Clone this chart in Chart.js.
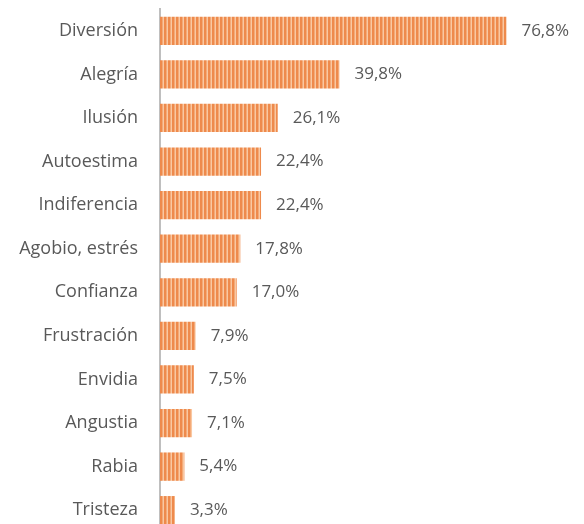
<!DOCTYPE html>
<html>
<head>
<meta charset="utf-8">
<script src="https://cdn.jsdelivr.net/npm/chart.js@4/dist/chart.umd.min.js"></script>
<style>
  html, body { margin: 0; padding: 0; background: #fff; overflow: hidden; }
  #wrap { width: 584px; height: 532px; position: relative; }
</style>
</head>
<body>
<div id="wrap"><canvas id="chart"></canvas></div>
<script>
// Datos del gráfico
const categorias = [
  "Diversión", "Alegría", "Ilusión", "Autoestima", "Indiferencia", "Agobio, estrés",
  "Confianza", "Frustración", "Envidia", "Angustia", "Rabia", "Tristeza"
];
const porcentajes = [76.8, 39.8, 26.1, 22.4, 22.4, 17.8, 17.0, 7.9, 7.5, 7.1, 5.4, 3.3];

const FONT = "'Open Sans', 'Noto Sans', sans-serif";
const TEXTO = "#595959";

// patrón de rayas verticales (naranja / claro)
function rayas() {
  const c = document.createElement("canvas");
  c.width = 4; c.height = 4;
  const g = c.getContext("2d");
  g.fillStyle = "#ee8a4c"; g.fillRect(0, 0, 2, 4);
  g.fillStyle = "#f4aa78"; g.fillRect(2, 0, 1, 4);
  g.fillStyle = "#f9c8a2"; g.fillRect(3, 0, 1, 4);
  return g.createPattern(c, "repeat");
}

// etiquetas de valor al final de cada barra
const etiquetas = {
  id: "etiquetas",
  afterDatasetsDraw(chart) {
    const ctx = chart.ctx;
    const meta = chart.getDatasetMeta(0);
    ctx.save();
    ctx.font = "17px " + FONT;
    ctx.fillStyle = TEXTO;
    ctx.textBaseline = "middle";
    ctx.textAlign = "left";
    meta.data.forEach((bar, i) => {
      const txt = porcentajes[i].toFixed(1).replace(".", ",") + "%";
      ctx.fillText(txt, bar.x + 15, bar.y);
    });
    ctx.restore();
  }
};

new Chart(document.getElementById("chart"), {
  type: "bar",
  data: {
    labels: categorias,
    datasets: [{
      data: porcentajes,
      backgroundColor: rayas(),
      borderWidth: 0,
      barPercentage: 0.65,
      categoryPercentage: 1
    }]
  },
  options: {
    indexAxis: "y",
    responsive: true,
    maintainAspectRatio: false,
    animation: false,
    layout: { padding: { top: 9, right: 0, bottom: 0, left: 0 } },
    plugins: { legend: { display: false }, tooltip: { enabled: false } },
    scales: {
      x: {
        min: 0, max: 94,
        display: false
      },
      y: {
        afterFit(s) { s.width = 160; s.paddingTop = 0; s.paddingBottom = 0; },
        grid: { display: false, drawTicks: false },
        border: { display: true, color: "#bfbfbf", width: 2 },
        ticks: { padding: 22, color: TEXTO, font: { family: FONT, size: 18 } }
      }
    }
  },
  plugins: [etiquetas]
});
</script>
</body>
</html>
